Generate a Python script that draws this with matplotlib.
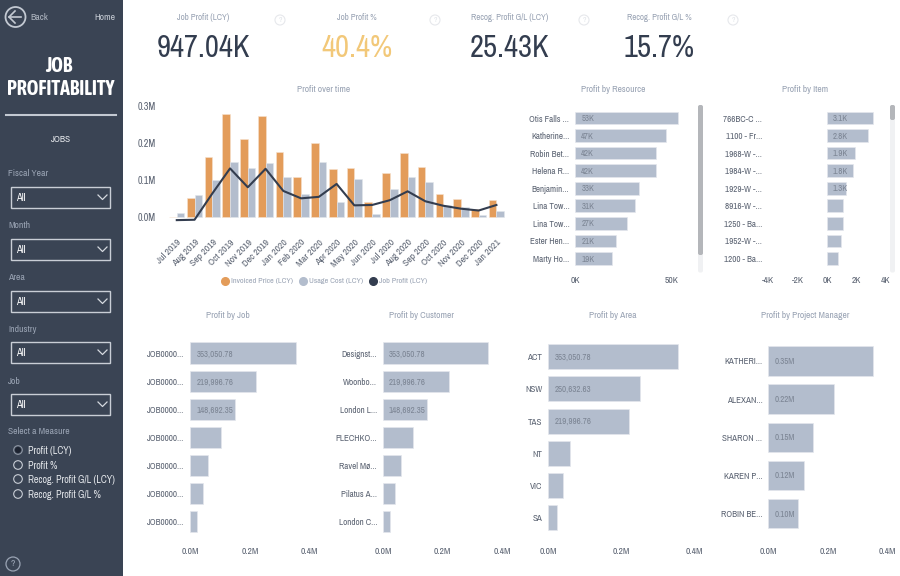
import matplotlib
matplotlib.use("Agg")
import matplotlib.pyplot as plt
from matplotlib.lines import Line2D
from matplotlib.patches import Rectangle, Circle, FancyBboxPatch
from matplotlib.ticker import FuncFormatter, FixedLocator

# ---------- data ----------
months = ["Jul 2019","Aug 2019","Sep 2019","Oct 2019","Nov 2019","Dec 2019","Jan 2020","Feb 2020","Mar 2020",
          "Apr 2020","May 2020","Jun 2020","Jul 2020","Aug 2020","Sep 2020","Oct 2020","Nov 2020","Dec 2020","Jan 2021"]
invoiced = [0.0,0.050,0.163,0.277,0.212,0.274,0.175,0.109,0.201,0.129,0.132,0.039,0.118,0.174,0.136,0.062,0.047,0.020,0.046]
usage = [0.011,0.059,0.100,0.148,0.133,0.145,0.107,0.061,0.148,0.041,0.102,0.007,0.074,0.107,0.095,0.033,0.027,0.005,0.015]
job_profit = [-0.009,-0.008,0.063,0.131,0.080,0.130,0.070,0.050,0.054,0.089,0.031,0.032,0.045,0.069,0.042,0.030,0.022,0.017,0.032]

resource_names = ["Otis Falls ...","Katherine...","Robin Bet...","Helena R...","Benjamin...","Lina Tow...","Lina Tow...","Ester Hen...","Marty Ho..."]
resource_vals = [53,47,42,42,33,31,27,21,19]
resource_lbls = ["53K","47K","42K","42K","33K","31K","27K","21K","19K"]

item_names = ["766BC-C ...","1100 - Fr...","1968-W -...","1984-W -...","1929-W -...","8916-W -...","1250 - Ba...","1952-W -...","1200 - Ba..."]
item_vals = [3.1,2.8,1.9,1.8,1.3,1.12,1.1,0.93,0.77]
item_lbls = ["3.1K","2.8K","1.9K","1.8K","1.3K","","","",""]

job_names = ["JOB0000..."]*7
job_vals = [0.35305078,0.21999676,0.14869235,0.1016,0.060,0.041,0.0235]
job_lbls = ["353,050.78","219,996.76","148,692.35","","","",""]

cust_names = ["Designst...","Woonbo...","London L...","PLECHKO...","Ravel Mø...","Pilatus A...","London C..."]
cust_vals = [0.35305078,0.21999676,0.14869235,0.1016,0.060,0.041,0.0235]
cust_lbls = ["353,050.78","219,996.76","148,692.35","","","",""]

area_names = ["ACT","NSW","TAS","NT","VIC","SA"]
area_vals = [0.35305078,0.25063263,0.21999676,0.060,0.041,0.023]
area_lbls = ["353,050.78","250,632.63","219,996.76","","",""]

pm_names = ["KATHERI...","ALEXAN...","SHARON ...","KAREN P...","ROBIN BE..."]
pm_vals = [0.35,0.22,0.15,0.12,0.10]
pm_lbls = ["0.35M","0.22M","0.15M","0.12M","0.10M"]

kpi_titles = ["Job Profit (LCY)","Job Profit %","Recog. Profit G/L (LCY)","Recog. Profit G/L %"]
kpi_values = ["947.04K","40.4%","25.43K","15.7%"]
slicers = ["Fiscal Year","Month","Area","Industry","Job"]
measures = ["Profit (LCY)","Profit %","Recog. Profit G/L (LCY)","Recog. Profit G/L %"]

# ---------- style ----------
plt.rcParams['font.family'] = ['Archivo Narrow', 'Lato', 'DejaVu Sans']
W, H = 900, 576
SIDE = "#3a4454"; ORANGE = "#e39c5a"; BAR = "#b3bdcd"; DARK = "#333d4f"
TXT = "#5b6372"; TITLE = "#98a2b3"; INBAR = "#7c8594"; YEL = "#f2c879"

fig = plt.figure(figsize=(W/100, H/100), dpi=100, facecolor="white")

def px_axes(x0, x1, ytop, ybot, **kw):
    return fig.add_axes([x0/W, 1-ybot/H, (x1-x0)/W, (ybot-ytop)/H], **kw)

# overlay in pixel coordinates for the page furniture
bg = px_axes(0, W, 0, H)
bg.set_xlim(0, W); bg.set_ylim(H, 0); bg.axis("off")
bg.add_patch(Rectangle((0, 0), 123, H, fc=SIDE, ec="none"))

def t(x, y, s, size=7, color=TXT, ha="center", weight="normal", family=None):
    bg.text(x, y, s, fontsize=size, color=color, ha=ha, va="center", fontweight=weight,
            **({"family": family} if family else {}))

# sidebar
bg.add_patch(Circle((15.5, 17), 10, fc="none", ec="#c3c9d2", lw=1.3))
bg.plot([9, 21], [17, 17], color="#c3c9d2", lw=1.2)
bg.plot([15, 9, 15], [11, 17, 23], color="#c3c9d2", lw=1.2)
t(39.5, 18, "Back", 7, "#aeb5c0")
t(105, 18, "Home", 7, "#c3c9d2")
TITLE_FONT = ['Asap Condensed', 'Lato', 'DejaVu Sans']
t(59, 66, "JOB", 14.3, "white", weight="bold", family=TITLE_FONT)
t(61, 89, "PROFITABILITY", 14.3, "white", weight="bold", family=TITLE_FONT)
bg.plot([6, 116], [115, 115], color="#c3c9d2", lw=1.5)
t(61, 139, "JOBS", 6.8, "#e5e8ec")
label_y = [173, 225, 277, 329, 381]
box_y = [187, 239, 291, 342, 394]
for name, ly, by in zip(slicers, label_y, box_y):
    t(8, ly, name, 6.9, "#9aa4b4", ha="left")
    bg.add_patch(Rectangle((11, by), 99, 20.5, fc="none", ec="#c9ced6", lw=1))
    t(16, by+11, "All", 7.5, "white", ha="left")
    bg.plot([98, 102.5, 107], [by+8, by+12.5, by+8], color="#d5d9df", lw=0.9)
t(8, 432, "Select a Measure", 6.9, "#9aa4b4", ha="left")
for i, (m, y) in enumerate(zip(measures, [450, 465, 479, 494])):
    bg.add_patch(Circle((18, y), 4.3, fc="none", ec="#8f97a4" if i == 0 else "#c9ced6", lw=0.8))
    if i == 0:
        bg.add_patch(Circle((18, y), 3, fc="#1d2330", ec="none"))
    t(28, y+1, m, 7.2, "#e5e8ec", ha="left")
bg.add_patch(Circle((13, 564), 7, fc="none", ec="#9aa4b4", lw=0.9))
t(13, 564, "?", 7, "#9aa4b4")

# KPI row
kpi_x = [203, 357, 510, 659]
kpi_q = [280, 435, 584, 733]
kpi_c = [DARK, YEL, DARK, DARK]
for x, q, ti, v, c in zip(kpi_x, kpi_q, kpi_titles, kpi_values, kpi_c):
    t(x, 18, ti, 6.4, TITLE)
    t(x, 48, v, 22, c)
    bg.add_patch(Circle((q, 20), 5, fc="none", ec="#e6e8ec", lw=0.8))
    t(q, 20, "?", 5.5, "#e0e3e8")

# chart titles
for x, y, s in [(324, 89, "Profit over time"), (613, 89, "Profit by Resource"), (805, 89, "Profit by Item"),
                (228, 315, "Profit by Job"), (421, 315, "Profit by Customer"),
                (613, 315, "Profit by Area"), (805, 315, "Profit by Project Manager")]:
    t(x, y, s, 6.8, TITLE)

# scrollbars
for x0, yend in [(698, 255), (890, 120)]:
    bg.add_patch(FancyBboxPatch((x0+1, 106), 3, 165.5, boxstyle="round,pad=1,rounding_size=2", fc="#f0f1f3", ec="none"))
    bg.add_patch(FancyBboxPatch((x0+1, 106), 3, yend-107, boxstyle="round,pad=1,rounding_size=2", fc="#b4b6ba", ec="none"))

# ---------- Profit over time ----------
ax = px_axes(167.9, 505.3, 106, 224)
ax.patch.set_alpha(0)
ax.set_xlim(-0.5, len(months)-0.5)
ax.set_ylim(-0.0195, 0.3)
xs = list(range(len(months)))
w = 0.43
ax.bar([x-w/2 for x in xs], invoiced, w, color=ORANGE, edgecolor="#f6e2cf", lw=0.4)
ax.bar([x+w/2 for x in xs], usage, w, color=BAR, edgecolor="#e2e6ec", lw=0.4)
ax.plot(xs, job_profit, color=DARK, lw=1.5, solid_joinstyle="round")
ax.set_yticks([0, 0.1, 0.2, 0.3])
ax.yaxis.set_major_formatter(FuncFormatter(lambda v, p: f"{v:.1f}M"))
ax.set_xticks(xs)
ax.set_xticklabels(months, rotation=45, ha="right", rotation_mode="anchor")
ax.tick_params(axis="x", length=0, labelsize=7, labelcolor=TXT, pad=10)
ax.tick_params(axis="y", length=0, labelsize=7.2, labelcolor=TXT, pad=9)
for s in ax.spines.values():
    s.set_visible(False)
handles = [Line2D([], [], ls="", marker="o", ms=5.5, color=c) for c in (ORANGE, BAR, DARK)]
fig.legend(handles, ["Invoiced Price (LCY)", "Usage Cost (LCY)", "Job Profit (LCY)"], ncol=3, frameon=False,
           loc="center", bbox_to_anchor=(322/W, 1-281/H), fontsize=5.8, labelcolor=TITLE,
           handletextpad=-0.3, columnspacing=0.3, borderpad=0)

# ---------- horizontal bar panels ----------
def hbar(names, vals, lbls, x_zero, px_per, ticks, fmt, first, step, bar_h, x_end, xlabel_y, x_start=None, ypad=4.3):
    n = len(vals)
    x_start = x_zero if x_start is None else x_start
    ytop = first - step/2
    ybot = first + step*(n-1) + step/2
    a = px_axes(x_start, x_end, ytop, ybot)
    a.patch.set_alpha(0)
    a.set_xlim((x_start-x_zero)/px_per, (x_end-x_zero)/px_per)
    a.set_ylim(n-0.5, -0.5)
    pos = list(range(n))
    a.barh(pos, vals, height=bar_h/step, color=BAR, edgecolor="#e4e7ed", lw=0.5)
    for p, l in zip(pos, lbls):
        if l:
            a.annotate(l, (0, p), xytext=(4.3, -0.5), textcoords="offset points", va="center",
                       ha="left", fontsize=6.4, color=INBAR)
    a.set_yticks(pos)
    a.set_yticklabels(names)
    a.xaxis.set_major_locator(FixedLocator(ticks))
    a.xaxis.set_major_formatter(FuncFormatter(fmt))
    a.tick_params(axis="y", length=0, labelsize=6.5, labelcolor=TXT, pad=ypad)
    a.tick_params(axis="x", length=0, labelsize=6.8, labelcolor=TXT, pad=(xlabel_y-ybot-5)*0.72)
    for s in a.spines.values():
        s.set_visible(False)
    return a

fmtK = lambda v, p: f"{v:.0f}K"
fmtM = lambda v, p: f"{v:.1f}M"
hbar(resource_names, resource_vals, resource_lbls, 575.3, 1.93, [0, 50], fmtK, 118, 17.55, 12.7, 690, 281)
hbar(item_names, item_vals, item_lbls, 827, 14.7, [-4, -2, 0, 2, 4], fmtK, 118, 17.55, 12.7, 888, 281, x_start=768, ypad=4.3)
hbar(job_names, job_vals, job_lbls, 190.3, 298.5, [0, 0.2, 0.4], fmtM, 353.3, 28.05, 21.7, 320, 552)
hbar(cust_names, cust_vals, cust_lbls, 383, 298.5, [0, 0.2, 0.4], fmtM, 353.3, 28.05, 21.7, 505, 552)
hbar(area_names, area_vals, area_lbls, 548.3, 366, [0, 0.2, 0.4], fmtM, 356.7, 32.2, 25, 700, 552)
hbar(pm_names, pm_vals, pm_lbls, 768.3, 298.5, [0, 0.2, 0.4], fmtM, 361, 38.1, 29.3, 892, 552)

fig.savefig("out.png", dpi=100, facecolor="white")
